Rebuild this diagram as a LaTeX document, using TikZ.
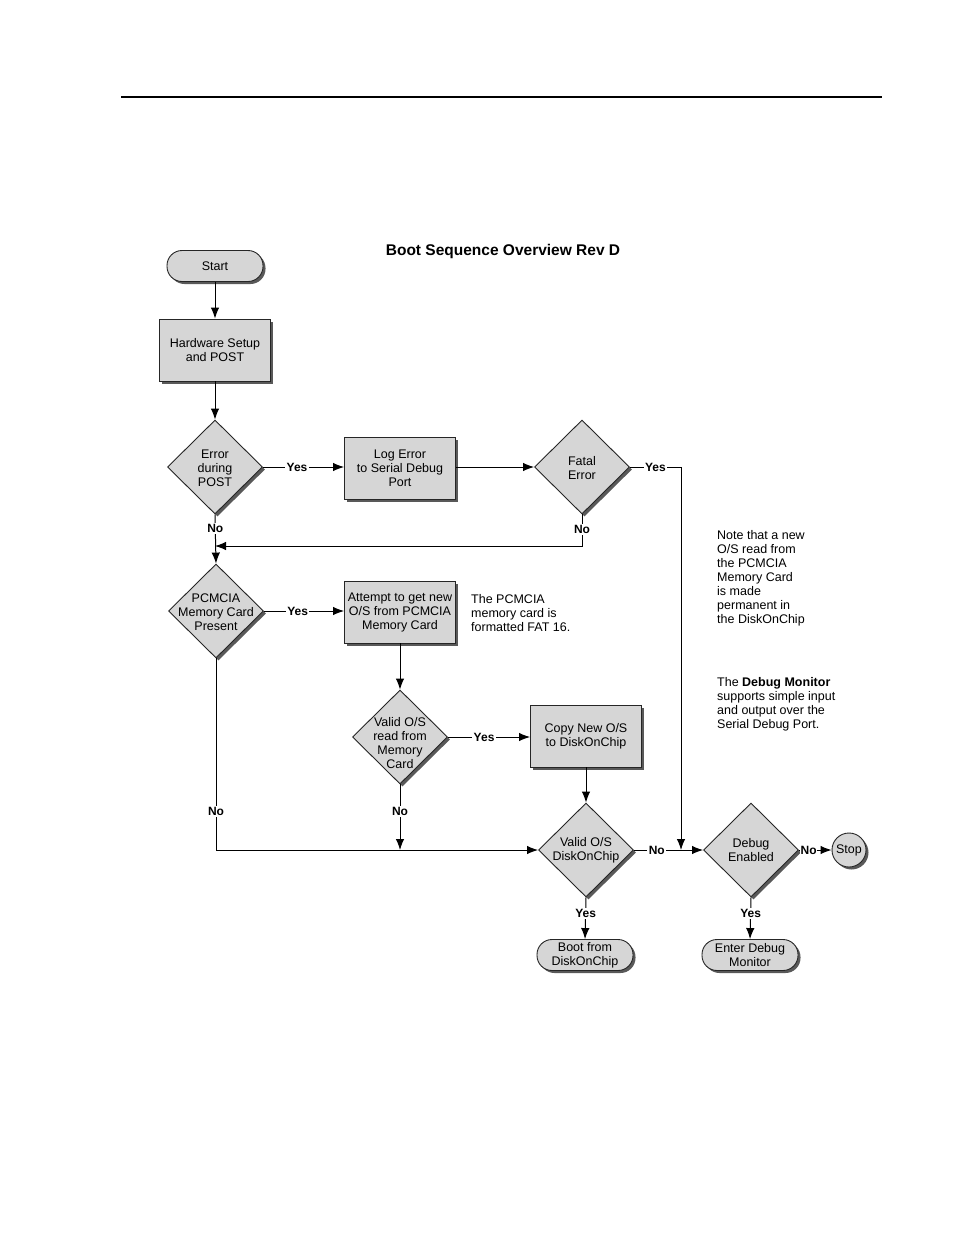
\documentclass[tikz,border=0pt]{standalone}
\usepackage{fontspec}
\setmainfont{Liberation Sans}
\usetikzlibrary{shapes.geometric,arrows.meta,shadows}
\definecolor{boxgray}{HTML}{D6D6D6}
\begin{document}
\begin{tikzpicture}[x=1pt,y=-1pt,
  every node/.style={font=\fontsize{12.5}{14}\selectfont},
  shd/.style={drop shadow={shadow xshift=2.5pt,shadow yshift=-2.5pt,fill=black!65,opacity=1}},
  procbox/.style={draw=black!85,line width=0.9pt,fill=boxgray,minimum width=111pt,minimum height=62pt,inner sep=0pt,align=center,shd},
  decis/.style={diamond,draw=black!85,line width=0.9pt,fill=boxgray,minimum width=95pt,minimum height=94pt,inner sep=0pt,shd},
  term/.style={draw=black!85,line width=0.9pt,fill=boxgray,rounded corners=15pt,minimum width=96pt,minimum height=31pt,inner sep=0pt,align=center,shd},
  endc/.style={circle,draw=black!85,line width=0.9pt,fill=boxgray,minimum size=34pt,inner sep=0pt,shd},
  arr/.style={line width=1pt,-{Latex[length=11pt,width=8.5pt]}},
  lbl/.style={font=\bfseries\fontsize{12}{14}\selectfont,fill=white,inner sep=1.5pt},
  note/.style={anchor=north west,align=left,inner sep=0pt}
]
\fill[white] (0,0) rectangle (954,1235);
\useasboundingbox (0,0) rectangle (954,1235);
\draw[line width=1.2pt] (121,97) -- (882,97);

\node[font=\bfseries\fontsize{15.5}{18}\selectfont] (title) at (503,251) {Boot Sequence Overview Rev D};

\node[term] (start) at (215,266) {Start};
\node[procbox] (hw) at (215,350) {Hardware Setup\\and POST};
\node[decis,label={[align=center,yshift=-1pt]center:{Error\\during\\POST}}] (err) at (215,467) {};
\node[procbox] (log) at (400,468) {Log Error\\to Serial Debug\\Port};
\node[decis,label={[align=center,yshift=-1pt]center:{Fatal\\Error}}] (fatal) at (582,467) {};
\node[decis,label={[align=center,yshift=-1pt]center:{PCMCIA\\Memory Card\\Present}}] (pcm) at (216,611) {};
\node[procbox] (att) at (400,612) {Attempt to get new\\O/S from PCMCIA\\Memory Card};
\node[decis,label={[align=center,yshift=-6pt]center:{Valid O/S\\read from\\Memory\\Card}}] (val1) at (400,737) {};
\node[procbox] (copy) at (586,736) {Copy New O/S\\to DiskOnChip};
\node[decis,label={[align=center]center:{Valid O/S\\DiskOnChip}}] (val2) at (586,850) {};
\node[decis,label={[align=center]center:{Debug\\Enabled}}] (dbg) at (751,850) {};
\node[endc] (stop) at (849,850) {Stop};
\node[term] (boot) at (585,955) {Boot from\\DiskOnChip};
\node[term] (mon) at (750,955) {Enter Debug\\Monitor};

\node[note] (n1) at (471,594) {The PCMCIA\\memory card is\\formatted FAT 16.};
\node[note] (n2) at (717,530) {Note that a new\\O/S read from\\the PCMCIA\\Memory Card\\is made\\permanent in\\the DiskOnChip};
\node[note] (n3) at (717,677) {The \textbf{Debug Monitor}\\supports simple input\\and output over the\\Serial Debug Port.};

\coordinate (j1) at (215,546);
\coordinate (fc) at (582,546);
\coordinate (fy) at (681,467);
\coordinate (j2) at (681,850);
\coordinate (pc) at (216,850);
\coordinate (j3) at (400,850);

\draw[arr] (start) -- (hw);
\draw[arr] (hw) -- (err.north);
\draw[arr] (err.east) -- node[lbl,pos=0.42]{Yes} (log.west |- err.east);
\draw[arr] (log.east |- fatal.west) -- (fatal.west);
\draw[arr] (fatal.east) -- node[lbl,pos=0.5]{Yes} (fy) -- (j2);
\draw[arr] (fatal.south) -- node[lbl,pos=0.47]{No} (fc) -- (j1);
\draw[arr] (err.south) -- node[lbl,pos=0.29]{No} (pcm.north);
\draw[arr] (pcm.east) -- node[lbl,pos=0.42]{Yes} (att.west |- pcm.east);
\draw[arr] (att.south) -- (val1.north);
\draw[arr] (val1.east) -- node[lbl,pos=0.44]{Yes} (copy.west |- val1.east);
\draw[arr] (copy.south) -- (val2.north);
\draw[arr] (val1.south) -- node[lbl,pos=0.41]{No} (j3);
\draw[arr] (pcm.south) -- node[lbl,pos=0.8]{No} (pc) -- (val2.west);
\draw[arr] (val2.east) -- node[lbl,pos=0.33]{No} (dbg.west);
\draw[arr] (dbg.east) -- node[lbl,pos=0.3,inner sep=0.5pt]{No} (stop.west);
\draw[arr] (val2.south) -- node[lbl,pos=0.38]{Yes} (boot.north);
\draw[arr] (dbg.south) -- node[lbl,pos=0.38]{Yes} (mon.north);
\end{tikzpicture}
\end{document}
